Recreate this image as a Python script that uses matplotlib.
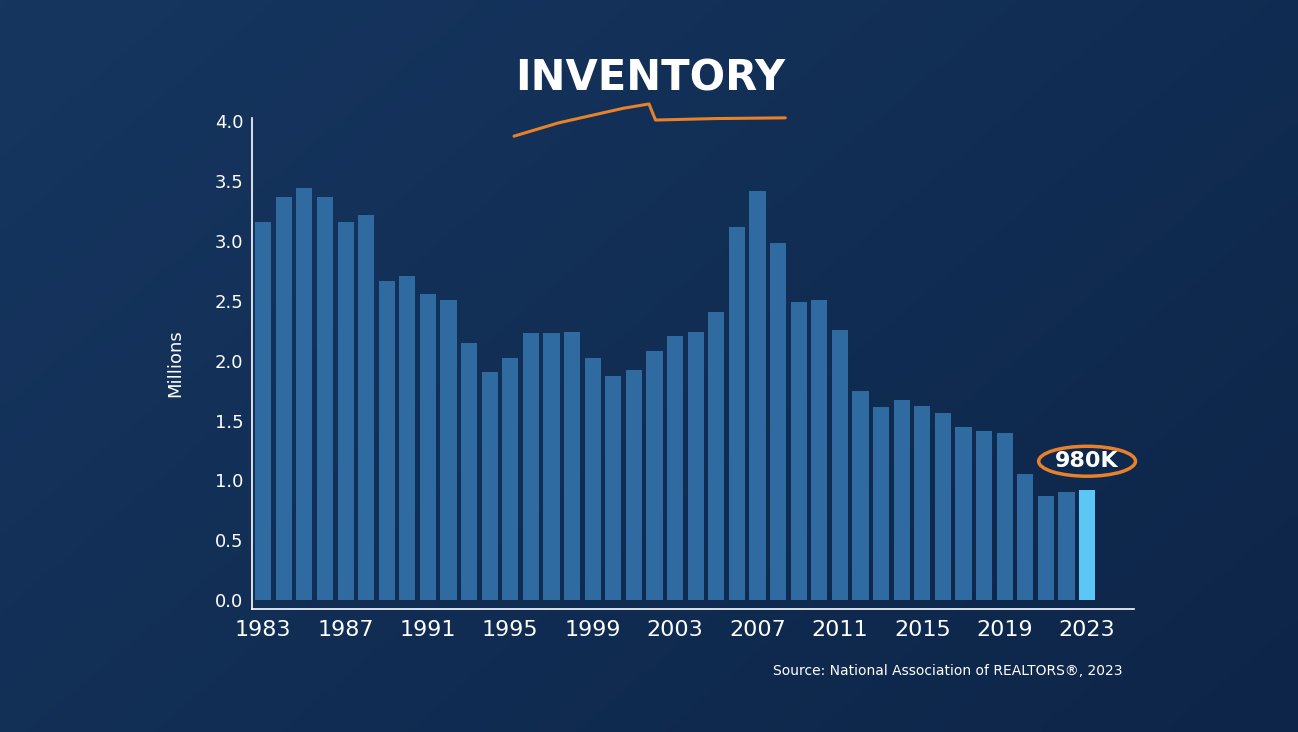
import matplotlib
matplotlib.use("Agg")
import matplotlib.pyplot as plt
import numpy as np
from matplotlib.patches import Ellipse

years = list(range(1983, 2024))
values = [3.16, 3.37, 3.44, 3.37, 3.16, 3.22, 2.67, 2.71, 2.56, 2.51,
          2.15, 1.91, 2.02, 2.23, 2.23, 2.24, 2.02, 1.87, 1.92, 2.08,
          2.21, 2.24, 2.41, 3.12, 3.42, 2.98, 2.49, 2.51, 2.26, 1.75,
          1.61, 1.67, 1.62, 1.56, 1.45, 1.41, 1.40, 1.05, 0.87, 0.90, 0.92]
xticks = list(range(1983, 2024, 4))
yticks = [0.0, 0.5, 1.0, 1.5, 2.0, 2.5, 3.0, 3.5, 4.0]

fig = plt.figure(figsize=(12.98, 7.32), dpi=100)
bg = fig.add_axes([0, 0, 1, 1])
grad = np.linspace(0, 1, 256)[None, :] * np.ones((256, 1))
g = grad * 0.6 + np.linspace(0, 1, 256)[:, None] * 0.4
bg.imshow(g, cmap=matplotlib.colors.LinearSegmentedColormap.from_list("b", ["#163660", "#0d2548"]),
          extent=[0, 1, 0, 1], aspect="auto")
bg.set_axis_off()

ax = fig.add_axes([0.194, 0.168, 0.680, 0.671])
ax.patch.set_alpha(0)
colors = ["#2f6aa0"] * (len(years) - 1) + ["#5cc6f4"]
ax.bar(years, values, width=0.78, color=colors)
ax.set_xlim(1983 - 0.55, 2023 + 2.3)
ax.set_ylim(-0.075, 4.03)
ax.set_xticks(xticks)
ax.set_yticks(yticks)
ax.set_yticklabels([f"{v:.1f}" for v in yticks])
for s in ["top", "right"]:
    ax.spines[s].set_visible(False)
for s in ["left", "bottom"]:
    ax.spines[s].set_color("white")
    ax.spines[s].set_linewidth(1.2)
ax.tick_params(axis="x", colors="white", labelsize=16, length=0, pad=8)
ax.tick_params(axis="y", colors="white", labelsize=13, length=0, pad=6)
ax.set_ylabel("Millions", color="white", fontsize=13, labelpad=22)

fig.text(0.501, 0.893, "INVENTORY", color="white", fontsize=30, fontweight="bold",
         ha="center", va="center")
fig.add_artist(plt.Line2D([0.396, 0.43, 0.48, 0.50, 0.505, 0.55, 0.605],
                          [0.814, 0.832, 0.852, 0.858, 0.836, 0.838, 0.839],
                          color="#e8822a", lw=2.2, solid_capstyle="round",
                          transform=fig.transFigure))
ax.add_patch(Ellipse((2023, 1.16), 4.7, 0.25, fill=False, edgecolor="#e8822a", lw=2.5,
                     clip_on=False))
ax.text(2023, 1.16, "980K", color="white", fontsize=16, fontweight="bold",
        ha="center", va="center")
fig.text(0.865, 0.083, "Source: National Association of REALTORS®, 2023", color="white",
         fontsize=10, ha="right", va="center")
fig.savefig("out.png", dpi=100)
